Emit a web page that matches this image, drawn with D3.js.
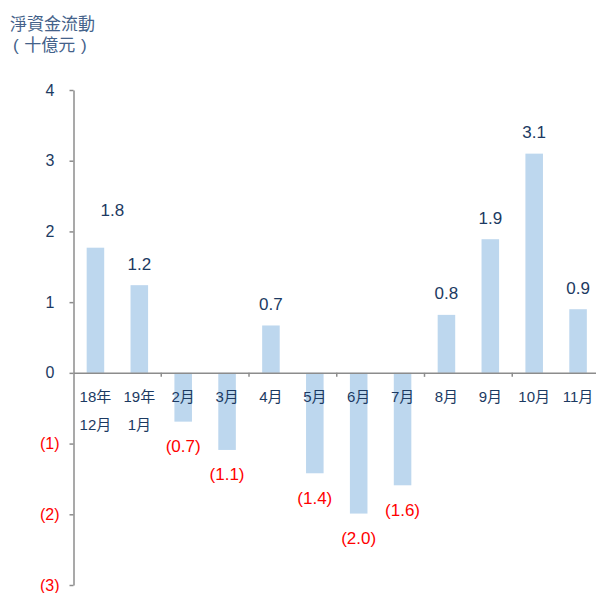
<!DOCTYPE html>
<html>
<head>
<meta charset="utf-8">
<script src="https://cdn.jsdelivr.net/npm/d3@7"></script>
<style>
  body { margin: 0; background: #fff; }
  svg { font-family: "Liberation Sans", Arial, "Noto Sans CJK TC", sans-serif; }
</style>
</head>
<body>
<svg width="596" height="593"></svg>
<script>
// months, net fund flow in HK$ billion
var categories = ["18年\n12月", "19年\n1月", "2月", "3月", "4月", "5月", "6月", "7月", "8月", "9月", "10月", "11月"];
var flows = [1.77, 1.24, -0.69, -1.09, 0.67, -1.42, -1.99, -1.59, 0.82, 1.89, 3.10, 0.90];
var yTicks = [-3, -2, -1, 0, 1, 2, 3, 4];
var titleLines = ["淨資金流動", "(\u2004十億元\u2004)"];

var navy = "#1c3a62";
var red = "#ff0000";
var axisGrey = "#8c8c8c";

var svg = d3.select("svg");

var xScale = d3.scaleBand()
    .domain(categories)
    .range([73.5, 600])
    .paddingInner(0.6)
    .paddingOuter(0.3);

var yScale = d3.scaleLinear().domain([-3, 4]).range([585, 90]);

// title
svg.append("g").selectAll("text")
    .data(titleLines)
    .enter()
    .append("text")
    .attr("x", function(d, i) { return i == 0 ? 10 : 13; })
    .attr("y", function(d, i) { return 24 + i * 21; })
    .attr("dominant-baseline", "central")
    .attr("font-size", 17)
    .attr("fill", "#44628a")
    .text(function(d) { return d; });

// bars
svg.append("g").selectAll("rect")
    .data(flows)
    .enter()
    .append("rect")
    .attr("x", function(d, i) { return xScale(categories[i]); })
    .attr("width", xScale.bandwidth())
    .attr("y", function(d) { return yScale(Math.max(0, d)); })
    .attr("height", function(d) { return Math.abs(yScale(d) - yScale(0)); })
    .attr("fill", "#bdd7ee");

// y axis
var yAxis = d3.axisLeft(yScale)
    .tickValues(yTicks)
    .tickSize(4)
    .tickSizeOuter(0)
    .tickFormat(function(d) { return d < 0 ? "(" + Math.abs(d) + ")" : d; });

var yg = svg.append("g")
    .attr("transform", "translate(73.5,0)")
    .call(yAxis)
    .attr("font-family", null)
    .attr("font-size", 16);
yg.select(".domain").attr("stroke", axisGrey).attr("stroke-width", 1.5);
yg.selectAll(".tick line").attr("stroke", axisGrey).attr("stroke-width", 1.5);
yg.selectAll(".tick text")
    .attr("x", function(d) { return d < 0 ? -14 : -19; })
    .attr("fill", function(d) { return d < 0 ? red : navy; });

// x axis at zero
var xAxis = d3.axisBottom(xScale).tickSize(0).tickSizeOuter(0);
var xg = svg.append("g")
    .attr("transform", "translate(0," + yScale(0) + ")")
    .call(xAxis)
    .attr("font-family", null)
    .attr("font-size", 15);
xg.select(".domain").attr("stroke", axisGrey).attr("stroke-width", 1.5);
xg.selectAll(".tick text").remove();

xg.selectAll(".tick").each(function(d) {
    var lines = d.split("\n");
    d3.select(this).selectAll("text.cat")
        .data(lines)
        .enter()
        .append("text")
        .attr("class", "cat")
        .attr("y", function(l, j) { return 24 + j * 28; })
        .attr("dominant-baseline", "central")
        .attr("text-anchor", "middle")
        .attr("fill", navy)
        .text(function(l) { return l; });
});

// tick marks between every second pair of months
var step = xScale.step();
var x0 = xScale.range()[0];
xg.selectAll("line.sep")
    .data(d3.range(2, categories.length, 2))
    .enter()
    .append("line")
    .attr("class", "sep")
    .attr("x1", function(k) { return x0 + k * step; })
    .attr("x2", function(k) { return x0 + k * step; })
    .attr("y1", 0)
    .attr("y2", 4)
    .attr("stroke", axisGrey)
    .attr("stroke-width", 1.5);

// value labels
var nudge = { 0: [17, -16] };
svg.append("g").selectAll("text")
    .data(flows)
    .enter()
    .append("text")
    .attr("x", function(d, i) {
        var n = nudge[i] ? nudge[i][0] : 0;
        return xScale(categories[i]) + xScale.bandwidth() / 2 + n;
    })
    .attr("y", function(d, i) {
        var n = nudge[i] ? nudge[i][1] : 0;
        return (d >= 0 ? yScale(d) - 21 : yScale(d) + 25) + n;
    })
    .attr("dominant-baseline", "central")
    .attr("text-anchor", "middle")
    .attr("font-size", 17)
    .attr("fill", function(d) { return d < 0 ? red : navy; })
    .text(function(d) {
        var s = Math.abs(d).toFixed(1);
        return d < 0 ? "(" + s + ")" : s;
    });
</script>
</body>
</html>
